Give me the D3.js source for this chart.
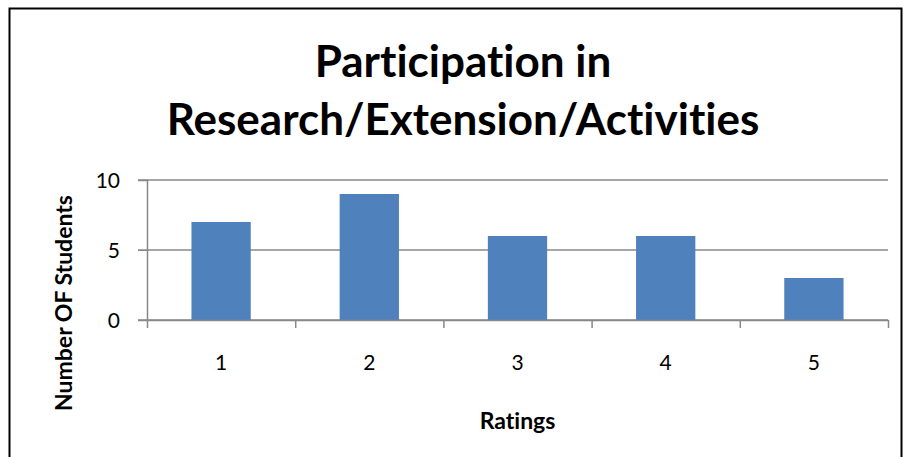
<!DOCTYPE html>
<html>
<head>
<meta charset="utf-8">
<script src="https://cdn.jsdelivr.net/npm/d3@7"></script>
<style>
    body { margin: 0; background: #fff; }
    text { font-family: Lato, "Open Sans", sans-serif; fill: #000; font-variant-ligatures: none; }
</style>
</head>
<body>
<div id="vis"></div>
<script>
// chart data
var ratings = ['1', '2', '3', '4', '5'];
var students = [7, 9, 6, 6, 3];
var y_ticks = [0, 5, 10];
var title_lines = ['Participation in', 'Research/Extension/Activities'];

var width = 906;
var height = 457;

var margin = {
    top: 180,
    bottom: 137,
    left: 147,
    right: 18
};

var svg = d3.select('#vis')
    .append('svg')
    .attr('width', width)
    .attr('height', height);

// outer frame
svg.append('rect')
    .attr('x', 9.5)
    .attr('y', 8.5)
    .attr('width', 892)
    .attr('height', 460)
    .attr('fill', 'none')
    .attr('stroke', '#000')
    .attr('stroke-width', 2);

svg.append('text')
    .attr('text-anchor', 'middle')
    .attr('font-weight', 'bold')
    .attr('font-size', 44)
    .selectAll('tspan')
    .data(title_lines)
    .enter()
    .append('tspan')
    .attr('x', 463)
    .attr('y', function(d, i) { return 77 + i * 58; })
    .text(function(d) { return d; });

var g = svg.append('g')
    .attr('transform', 'translate(' + margin.left + ',' + margin.top + ')');

var w = width - margin.left - margin.right;
var h = height - margin.top - margin.bottom;

var x_scale = d3.scaleBand()
    .domain(ratings)
    .range([0, w])
    .paddingInner(0.6)
    .paddingOuter(0.3);

var edge_scale = d3.scaleLinear()
    .domain([0, ratings.length])
    .range([0, w]);

var y_scale = d3.scaleLinear()
    .domain([0, 10])
    .range([h, 0]);

// gridlines
g.selectAll('.grid')
    .data(y_ticks)
    .enter()
    .append('line')
    .attr('class', 'grid')
    .attr('x1', -9)
    .attr('x2', w)
    .attr('y1', function(d) { return y_scale(d); })
    .attr('y2', function(d) { return y_scale(d); })
    .attr('stroke', '#888')
    .attr('stroke-width', 1.5);

// y axis
var y_axis = d3.axisLeft(y_scale)
    .tickValues(y_ticks)
    .tickSize(9)
    .tickPadding(18);

g.append('g')
    .attr('class', 'y axis')
    .call(y_axis)
    .call(function(s) {
        s.select('.domain').attr('stroke', '#888').attr('stroke-width', 1.5);
        s.selectAll('line').attr('stroke', '#888');
        s.selectAll('text').attr('font-size', 21).attr('font-family', null).attr('dy', '0.35em');
    });

// boundary ticks under x axis
var edge_axis = d3.axisBottom(edge_scale)
    .tickValues(d3.range(ratings.length + 1))
    .tickSize(8)
    .tickFormat('');

g.append('g')
    .attr('class', 'x edges')
    .attr('transform', 'translate(0,' + h + ')')
    .call(edge_axis)
    .call(function(s) {
        s.select('.domain').remove();
        s.selectAll('line').attr('stroke', '#888').attr('stroke-width', 1.5);
    });

// bars
g.selectAll('.bar')
    .data(students)
    .enter()
    .append('rect')
    .attr('class', 'bar')
    .attr('x', function(d, i) { return x_scale(ratings[i]); })
    .attr('width', x_scale.bandwidth())
    .attr('y', function(d) { return y_scale(d); })
    .attr('height', function(d) { return h - y_scale(d); })
    .attr('fill', '#4f81bd');

// x axis baseline and labels
var x_axis = d3.axisBottom(x_scale)
    .tickSize(0)
    .tickPadding(35);

g.append('g')
    .attr('class', 'x axis')
    .attr('transform', 'translate(0,' + h + ')')
    .call(x_axis)
    .call(function(s) {
        s.select('.domain').attr('stroke', '#888').attr('stroke-width', 1.5);
        s.selectAll('text').attr('font-size', 21).attr('font-family', null);
    });

svg.append('text')
    .attr('text-anchor', 'middle')
    .attr('font-weight', 'bold')
    .attr('font-size', 23)
    .attr('x', margin.left + w / 2)
    .attr('y', 429)
    .text('Ratings');

svg.append('text')
    .attr('text-anchor', 'middle')
    .attr('font-weight', 'bold')
    .attr('font-size', 23)
    .attr('transform', 'translate(72,303) rotate(-90)')
    .text('Number OF Students');
</script>
</body>
</html>
